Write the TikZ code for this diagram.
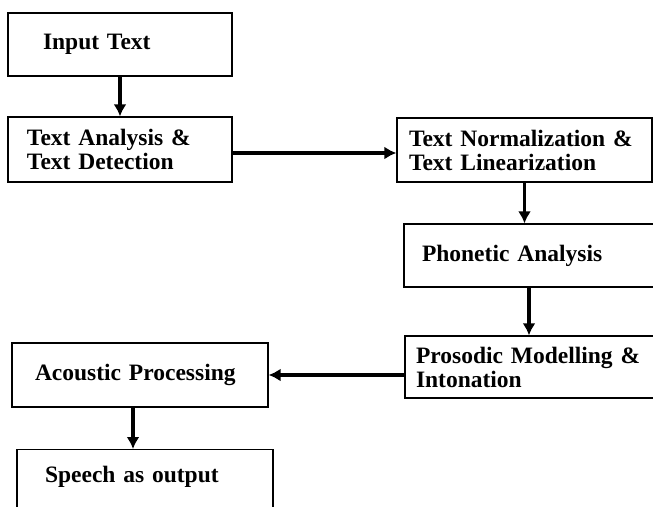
\documentclass[tikz,border=0pt]{standalone}
\usepackage{fontspec}
\setmainfont{Liberation Serif}[WordSpace=0.7]
\usetikzlibrary{arrows.meta}

\tikzset{
  procBox/.style={draw, line width=1.3pt, align=left, inner ysep=0pt,
    font=\fontsize{23.5}{24}\selectfont\bfseries},
  flowArr/.style={line width=3.5pt, -{Latex[length=12pt,width=13pt]}}
}

\begin{document}
\begin{tikzpicture}[x=1pt, y=-1pt]

\useasboundingbox (0,0) rectangle (653,506);
\clip (0,0) rectangle (653,506);

\coordinate (cPhonArr) at (529, 0);
\coordinate (cOutArr) at (133, 0);
\coordinate (cRowArr) at (0, 153);

\node[procBox, minimum width=224pt, minimum height=63pt, inner xsep=35pt, text width=154pt]
  (nInput) at (120, 44.5) {Input Text};
\node[procBox, minimum width=224pt, minimum height=65pt, inner xsep=19pt, text width=186pt]
  (nAnalysis) at (120, 149.5) {Text Analysis \&\\Text Detection};
\node[procBox, minimum width=255pt, minimum height=64pt, inner xsep=12pt, text width=231pt]
  (nNorm) at (524.5, 150) {Text Normalization \&\\Text Linearization};
\node[procBox, minimum width=261pt, minimum height=63pt, inner xsep=18pt, text width=225pt]
  (nPhon) at (534.5, 255.5) {Phonetic Analysis};
\node[procBox, minimum width=260pt, minimum height=62pt, inner xsep=11pt, text width=238pt]
  (nPros) at (535, 367) {Prosodic Modelling \&\\Intonation};
\node[procBox, minimum width=256pt, minimum height=64pt, inner xsep=23pt, text width=210pt]
  (nAcou) at (140, 375) {Acoustic Processing};
\node[procBox, anchor=north, minimum width=256pt, inner xsep=28pt, text width=200pt,
  text height=33pt, text depth=38pt]
  (nSpeech) at (145, 449) {Speech as output};

\draw[flowArr] (nInput.south) -- (nAnalysis.north);
\draw[flowArr] (nAnalysis.east |- cRowArr) -- (nNorm.west |- cRowArr);
\draw[flowArr] (nNorm.south) -- (nNorm.south |- nPhon.north);
\draw[flowArr] (nPhon.south -| cPhonArr) -- (nPros.north -| cPhonArr);
\draw[flowArr] (nPros.west |- nAcou.east) -- (nAcou.east);
\draw[flowArr] (nAcou.south -| cOutArr) -- (nSpeech.north -| cOutArr);

\end{tikzpicture}
\end{document}
